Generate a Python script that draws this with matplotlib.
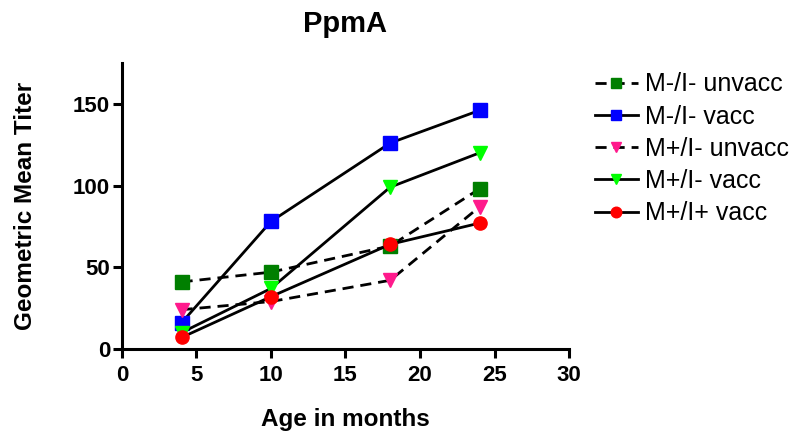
import matplotlib
matplotlib.use('Agg')
import matplotlib.pyplot as plt

plt.rcParams['font.family'] = ['Liberation Sans', 'DejaVu Sans']

ages = [4, 10, 18, 24]
labels = ['M-/I- unvacc', 'M-/I- vacc', 'M+/I- unvacc', 'M+/I- vacc', 'M+/I+ vacc']
mneg_ineg_unvacc = [41, 47, 63, 98]
mneg_ineg_vacc = [16, 78, 126, 146]
mpos_ineg_unvacc = [24, 29, 42, 87]
mpos_ineg_vacc = [10, 37, 99, 120]
mpos_ipos_vacc = [7, 32, 64, 77]

series = [mneg_ineg_unvacc, mneg_ineg_vacc, mpos_ineg_unvacc, mpos_ineg_vacc, mpos_ipos_vacc]
colors = ['#007f00', '#0000ff', '#ff1a8c', '#00ff00', '#ff0000']
markers = ['s', 's', 'v', 'v', 'o']
styles = ['--', '-', '--', '-', '-']

fig = plt.figure(figsize=(7.97, 4.34), dpi=100)
ax = fig.add_axes([0.153, 0.196, 0.561, 0.659])

for vals, lab, c, m, ls in zip(series, labels, colors, markers, styles):
    ax.plot(ages, vals, color='black', linestyle=ls, linewidth=2,
            marker=m, markersize=9.5, markerfacecolor=c, markeredgecolor=c,
            label=lab, dashes=(4, 2.5) if ls == '--' else (None, None))

ax.set_xlim(0, 30)
ax.set_ylim(0, 175)
ax.set_xticks([0, 5, 10, 15, 20, 25, 30])
ax.set_yticks([0, 50, 100, 150])
for s in ['top', 'right']:
    ax.spines[s].set_visible(False)
for s in ['left', 'bottom']:
    ax.spines[s].set_linewidth(2.2)
ax.tick_params(width=2.2, length=6.5, labelsize=16)
ax.tick_params(axis='x', pad=5)
ax.tick_params(axis='y', pad=2)
for t in ax.get_xticklabels() + ax.get_yticklabels():
    t.set_fontweight('bold')
ax.set_xlabel('Age in months', fontsize=17.5, fontweight='bold', labelpad=16)
ax.set_ylabel('Geometric Mean Titer', fontsize=17.5, fontweight='bold', labelpad=26)
ax.set_title('PpmA', fontsize=21, fontweight='bold', pad=22)

leg = ax.legend(loc='upper left', bbox_to_anchor=(0.731, 0.862), bbox_transform=fig.transFigure,
                frameon=False, fontsize=18, handlelength=1.7, handletextpad=0.3,
                labelspacing=0.33, borderpad=0, markerscale=0.8)

fig.savefig('out.png', dpi=100)
